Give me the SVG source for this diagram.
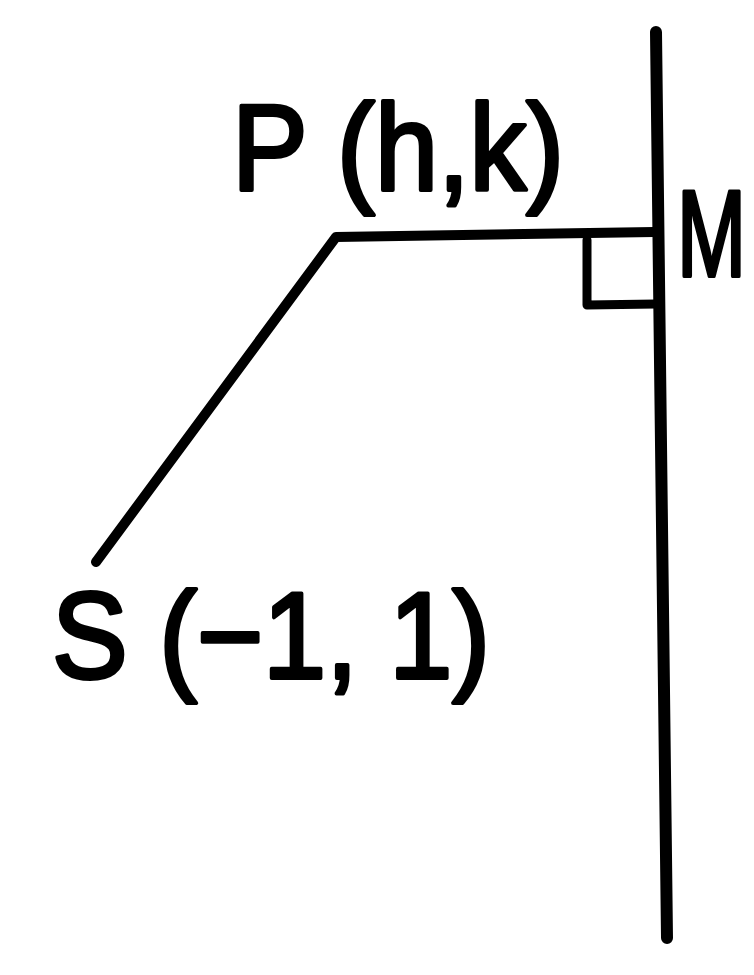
<svg xmlns="http://www.w3.org/2000/svg" width="754" height="975" viewBox="0 0 754 975">
<style>
.ln{stroke:#000;fill:none;stroke-linecap:round;stroke-linejoin:round}
.lb{font-family:"Liberation Sans",Arial,sans-serif;fill:#000;stroke:#000;stroke-width:4;stroke-linejoin:round;font-size:122px}
</style>
<rect width="754" height="975" fill="#fff"/>
<g id="connectors">
<line class="ln" x1="656" y1="32" x2="667" y2="938" stroke-width="12"/>
<polyline class="ln" points="96,562 336,237 654,232" stroke-width="10"/>
<polyline class="ln" points="587,240 587,305 656,304" stroke-width="9"/>
</g>
<g id="P"><text class="lb" x="232" y="190" textLength="332" lengthAdjust="spacingAndGlyphs">P (h,k)</text></g>
<g id="S"><text class="lb" x="52" y="678" textLength="438" lengthAdjust="spacingAndGlyphs">S (−1, 1)</text></g>
<g id="M"><text class="lb" transform="translate(677,276) scale(0.68,1)" x="0" y="0" font-size="116">M</text></g>
</svg>
